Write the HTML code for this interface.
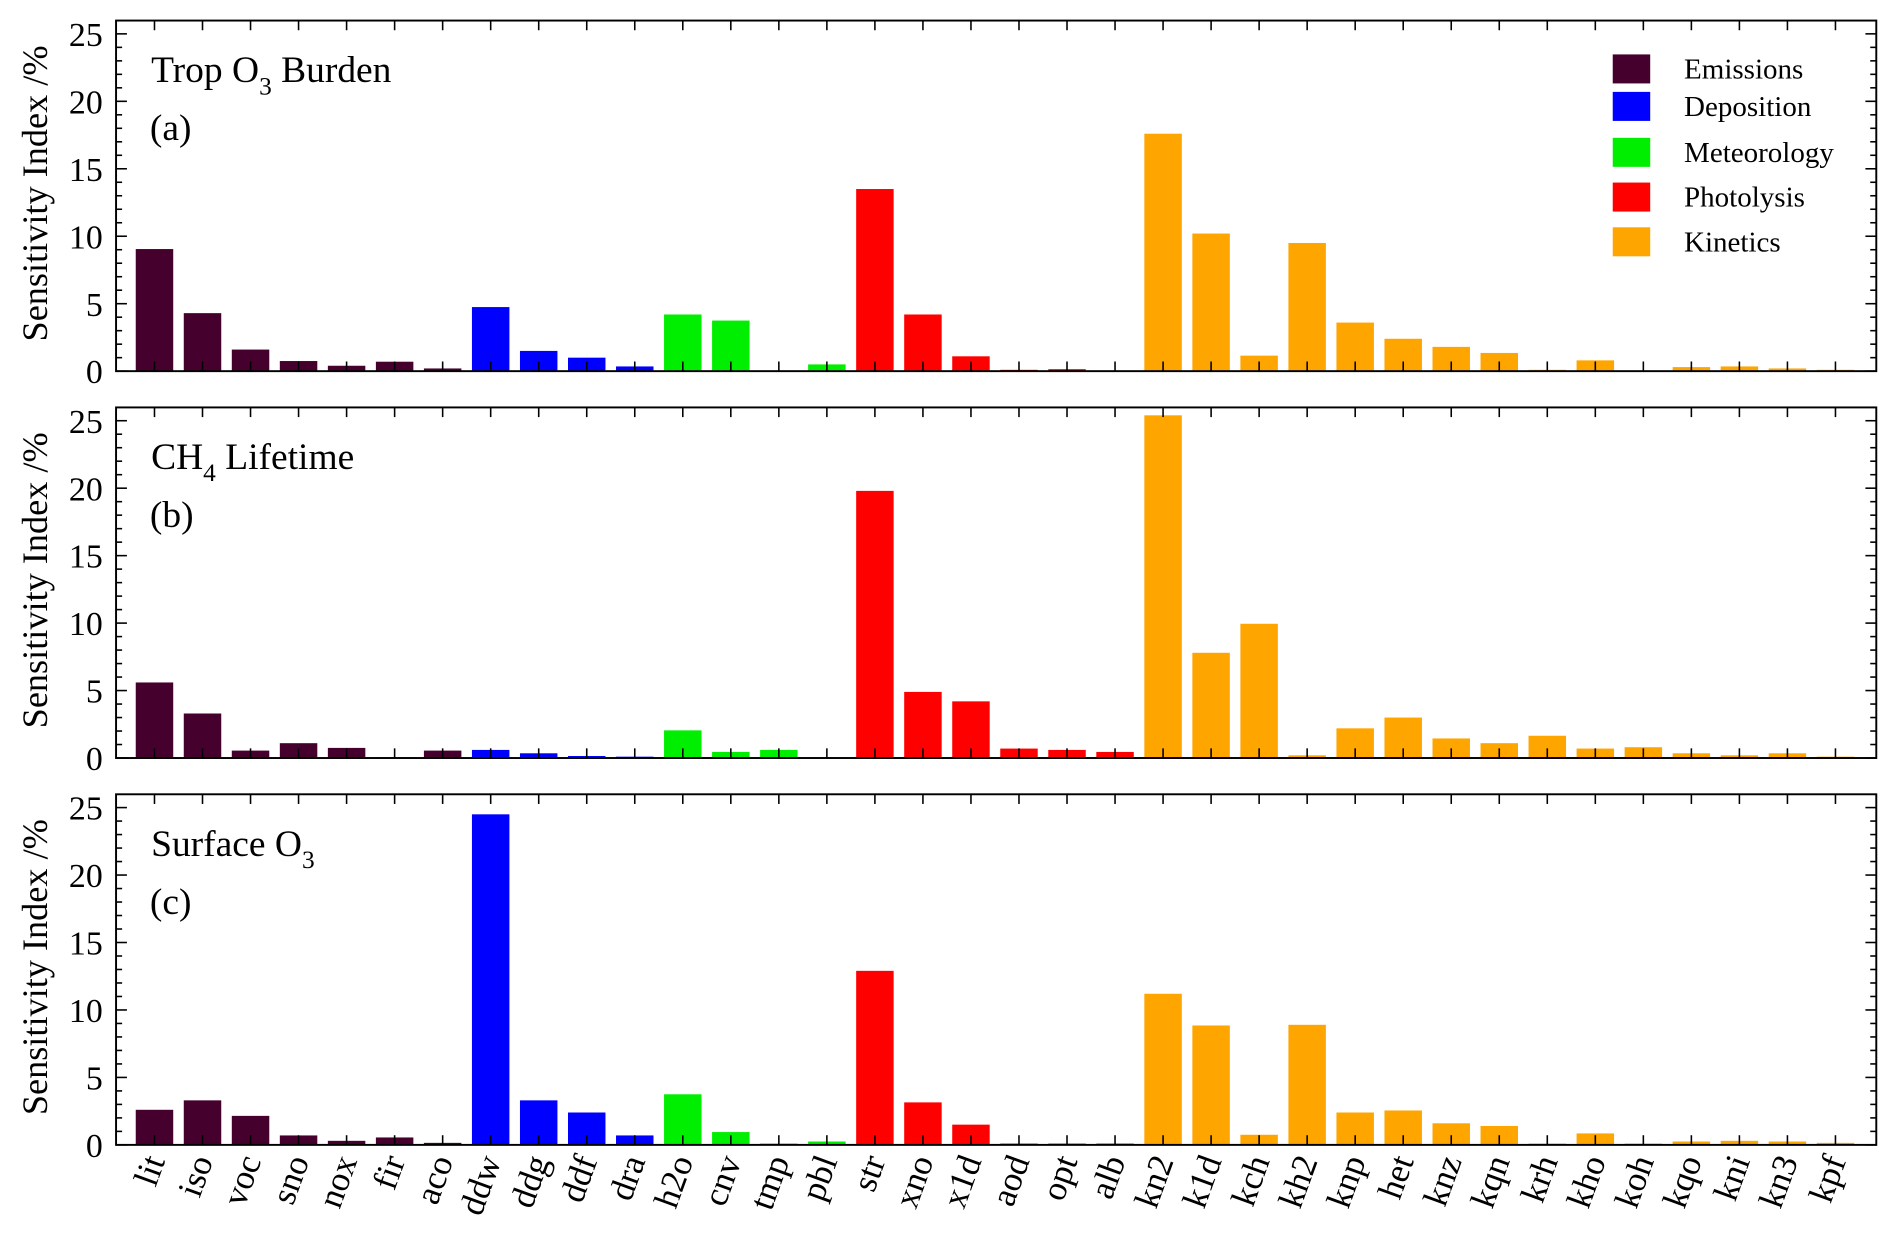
<!DOCTYPE html>
<html><head><meta charset="utf-8"><style>
html,body{margin:0;padding:0;background:#fff;}
svg{display:block;font-family:"Liberation Serif",serif;}
</style></head><body>
<svg id="chart" width="1892" height="1241" viewBox="0 0 1565 1026.5" xmlns="http://www.w3.org/2000/svg"></svg>
<script>
const categories=["lit","iso","voc","sno","nox","fir","aco","ddw","ddg","ddf","dra","h2o","cnv","tmp","pbl","str","xno","x1d","aod","opt","alb","kn2","k1d","kch","kh2","knp","het","knz","kqn","krh","kho","koh","kqo","kni","kn3","kpf"];
const groupOf=[0,0,0,0,0,0,0,1,1,1,1,2,2,2,2,3,3,3,3,3,3,4,4,4,4,4,4,4,4,4,4,4,4,4,4,4];
const groupNames=["Emissions","Deposition","Meteorology","Photolysis","Kinetics"];
const groupColors=["#45002d","#0000ff","#00ee00","#ff0000","#ffa500"];
const tropO3=[9.05,4.3,1.6,0.75,0.4,0.7,0.2,4.75,1.5,1.0,0.35,4.2,3.75,0.05,0.5,13.5,4.2,1.1,0.1,0.15,0.05,17.6,10.2,1.15,9.5,3.6,2.4,1.8,1.35,0.1,0.8,0.05,0.3,0.35,0.2,0.1];
const ch4Life=[5.6,3.3,0.55,1.1,0.75,0.05,0.55,0.6,0.35,0.15,0.1,2.05,0.45,0.6,0.05,19.8,4.9,4.2,0.7,0.6,0.45,25.4,7.8,9.95,0.2,2.2,3.0,1.45,1.1,1.65,0.7,0.8,0.35,0.2,0.35,0.1];
const surfO3=[2.6,3.3,2.15,0.7,0.3,0.55,0.15,24.5,3.3,2.4,0.7,3.75,0.95,0.1,0.25,12.9,3.15,1.5,0.1,0.1,0.1,11.2,8.85,0.75,8.9,2.4,2.55,1.6,1.4,0.1,0.85,0.1,0.25,0.3,0.25,0.15];
const yTicks=[0,5,10,15,20,25];
const panelTitles=[["Trop O","3"," Burden"],["CH","4"," Lifetime"],["Surface O","3",""]];
const panelLetters=["(a)","(b)","(c)"];
const panelData=[tropO3,ch4Life,surfO3];

const NS="http://www.w3.org/2000/svg";
const svg=document.getElementById("chart");
function mk(tag,attrs,parent){const e=document.createElementNS(NS,tag);for(const k in attrs)e.setAttribute(k,attrs[k]);(parent||svg).appendChild(e);return e;}
const L=96,R=1552,pxUnit=11.16;
const xs=i=>L+(i+0.8)*((R-L)/36.65);
const bw=31;
const panelTops=[17,337,657];
panelTops.forEach((top,p)=>{
  const zero=top+290;
  const ys=v=>zero-v*pxUnit;
  const g=mk("g",{});
  
  
  panelData[p].forEach((v,i)=>{
    const r=mk("rect",{x:xs(i)-bw/2,y:ys(v),width:bw,height:zero-ys(v),fill:groupColors[groupOf[i]]},g);
    
    
  });
  const f=mk("rect",{x:L,y:top,width:R-L,height:290,fill:"none",stroke:"#000","stroke-width":1.6},g);
  
  
  for(let v=0;v<=25;v++){
    const len=v%5===0?9:5;
    mk("line",{x1:L,x2:L+len,y1:ys(v),y2:ys(v),stroke:"#000","stroke-width":1.3},g);
    mk("line",{x1:R,x2:R-len,y1:ys(v),y2:ys(v),stroke:"#000","stroke-width":1.3},g);
  }
  yTicks.forEach(v=>{
    const t=mk("text",{x:85,y:ys(v)+10,"text-anchor":"end","font-size":28},g);
    t.textContent=v;
    
    
  });
  categories.forEach((c,i)=>{
    mk("line",{x1:xs(i),x2:xs(i),y1:top,y2:top+8,stroke:"#000","stroke-width":1.3},g);
    mk("line",{x1:xs(i),x2:xs(i),y1:zero,y2:zero-8,stroke:"#000","stroke-width":1.3},g);
  });
  const yt=mk("text",{transform:`translate(39,${top+143}) rotate(-90)`,"text-anchor":"middle","font-size":30},g);
  yt.textContent="Sensitivity Index /%";
  
  
  const tt=mk("text",{x:125,y:top+51,"font-size":31},g);
  
  
  const pt=panelTitles[p];
  const s1=mk("tspan",{},tt);s1.textContent=pt[0];
  const s2=mk("tspan",{dy:10,"font-size":21},tt);s2.textContent=pt[1];
  const s3=mk("tspan",{dy:-10},tt);s3.textContent=pt[2];
  const lt=mk("text",{x:124,y:top+99,"font-size":31},g);
  lt.textContent=panelLetters[p];
  
  
});
categories.forEach((c,i)=>{
  const t=mk("text",{transform:`translate(${xs(i)+9},${960}) rotate(-70)`,"text-anchor":"end","font-size":29});
  t.textContent=c;
  
  
});
const legY=[57,88,126,163,200];
groupNames.forEach((n,k)=>{
  const lg=mk("g",{});
  
  
  mk("rect",{x:1334,y:legY[k]-12,width:31,height:24,fill:groupColors[k]},lg);
  const t=mk("text",{x:1393,y:legY[k]+8,"font-size":24},lg);
  t.textContent=n;
});
</script>
</body></html>
